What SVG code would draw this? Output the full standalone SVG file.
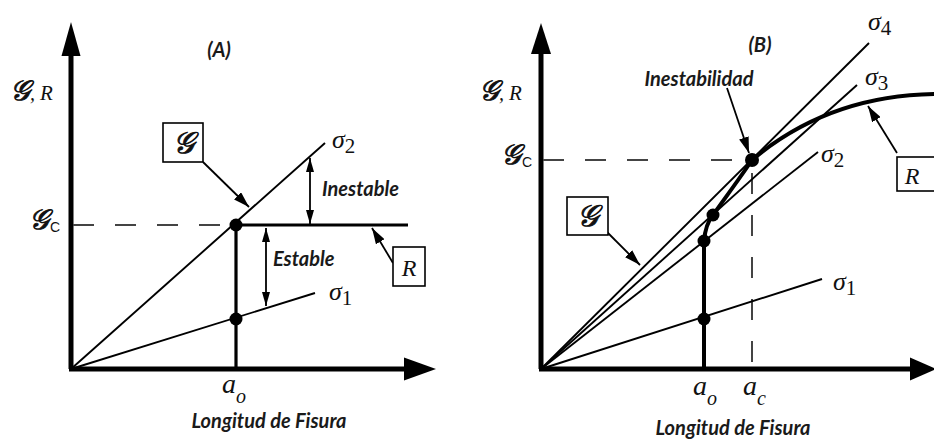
<svg xmlns="http://www.w3.org/2000/svg" width="934" height="441" viewBox="0 0 934 441">
<style>
.ax{stroke:#000;stroke-width:5;fill:none}
.ln{stroke:#000;stroke-width:1.9;fill:none}
.thk{stroke:#000;stroke-width:3.2;fill:none}
.rc{stroke:#000;stroke-width:4;fill:none;stroke-linecap:round}
.dash{stroke:#444;stroke-width:2;stroke-dasharray:21 21;fill:none}
.ptr{stroke:#000;stroke-width:1.8;fill:none;marker-end:url(#ah)}
.dbl{stroke:#000;stroke-width:1.8;fill:none;marker-start:url(#dh);marker-end:url(#dh)}
.box{fill:#fff;stroke:#000;stroke-width:1.6}
.dot{fill:#000}
.lab{font-family:"Lato","Liberation Sans",sans-serif;font-weight:bold;font-style:italic;font-size:20px;fill:#1a1a1a}
.m{font-family:"Liberation Serif",serif;font-style:italic;fill:#111;stroke:none}
.scr{font-family:"DejaVu Serif","DejaVu Sans","Noto Sans",serif;font-style:italic;fill:#111;stroke:#111;stroke-width:0.9}
.sub{font-family:"Liberation Sans",sans-serif;font-size:14px;fill:#111}
</style>
<defs>
<marker id="ah" viewBox="0 0 16 10" refX="16" refY="5" markerWidth="16" markerHeight="10" markerUnits="userSpaceOnUse" orient="auto"><path d="M0,0 L16,5 L0,10 z" fill="#000"/></marker>
<marker id="dh" viewBox="0 0 14 8" refX="14" refY="4" markerWidth="14" markerHeight="8" markerUnits="userSpaceOnUse" orient="auto-start-reverse"><path d="M0,0 L14,4 L0,8 z" fill="#000"/></marker>
</defs>
<rect width="934" height="441" fill="#fff"/>

<!-- Panel A -->
<g id="panelA-axes">
<line class="ax" x1="71" y1="369" x2="71" y2="50"/>
<polygon points="71,22 61.5,56 80.5,56" fill="#000"/>
<line class="ax" x1="69" y1="369" x2="410" y2="369"/>
<polygon points="436,369 404,357.5 404,380.5" fill="#000"/>
</g>
<g id="panelA-connectors">
<line class="dash" x1="73" y1="225" x2="232" y2="225"/>
<line class="ln" x1="71" y1="369" x2="325" y2="143"/>
<line class="ln" x1="71" y1="369" x2="315" y2="293"/>
<line class="thk" x1="236" y1="225" x2="408" y2="225"/>
<line class="thk" x1="236" y1="225" x2="236" y2="369"/>
<line class="ptr" x1="203" y1="162" x2="249" y2="207"/>
<line class="ptr" x1="393" y1="263" x2="372" y2="228"/>
<line class="dbl" x1="310" y1="158" x2="310" y2="224"/>
<line class="dbl" x1="266" y1="228" x2="266" y2="306"/>
<circle class="dot" cx="236" cy="225" r="6.5"/>
<circle class="dot" cx="236" cy="319" r="6.5"/>
</g>
<g id="panelA-G">
<rect class="box" x="163" y="123" width="40" height="39"/>
<text class="scr" x="183" y="153" font-size="30" text-anchor="middle">𝒢</text>
</g>
<g id="panelA-R">
<rect class="box" x="393" y="247" width="32" height="39"/>
<text class="m" x="409" y="276" font-size="24" text-anchor="middle">R</text>
</g>
<g id="panelA-labels">
<text class="lab" x="219" y="57" text-anchor="middle">(A)</text>
<text class="scr" x="10" y="100" font-size="28">𝒢<tspan class="m" font-size="20">,</tspan><tspan class="m" x="40" font-size="21">R</tspan></text>
<text class="scr" x="29" y="229" font-size="28">𝒢</text>
<text class="sub" x="50" y="232">C</text>
<text class="m" x="332" y="148" font-size="26">σ<tspan font-style="normal" font-size="21" dy="5">2</tspan></text>
<text class="m" x="329" y="300" font-size="26">σ<tspan font-style="normal" font-size="21" dy="5">1</tspan></text>
<text class="lab" x="322" y="196">Inestable</text>
<text class="lab" x="273" y="266">Estable</text>
<text class="m" x="222" y="393" font-size="28">a<tspan font-size="20" dy="10">o</tspan></text>
<text class="lab" x="269" y="428" text-anchor="middle">Longitud de Fisura</text>
</g>

<!-- Panel B -->
<g id="panelB-axes">
<line class="ax" x1="541" y1="369" x2="541" y2="50"/>
<polygon points="541,23 531,54 551,54" fill="#000"/>
<line class="ax" x1="539" y1="369" x2="915" y2="369"/>
<polygon points="936,369 910,357.5 910,380.5" fill="#000"/>
</g>
<g id="panelB-connectors">
<line class="dash" x1="543" y1="160" x2="748" y2="160"/>
<line class="dash" x1="752" y1="173" x2="752" y2="369"/>
<line class="ln" x1="541" y1="369" x2="869" y2="43"/>
<line class="ln" x1="541" y1="369" x2="857" y2="85"/>
<line class="ln" x1="541" y1="369" x2="818" y2="152"/>
<line class="ln" x1="541" y1="369" x2="822" y2="279"/>
<path class="rc" d="M704,369 L704,241 C705,230 708,221 713,215 C725,198 740,178 752,160 C790,128 850,94 940,94"/>
<line class="ptr" x1="727" y1="88" x2="749" y2="153"/>
<line class="ptr" x1="607" y1="232" x2="640" y2="265"/>
<line class="ptr" x1="897" y1="153" x2="868" y2="106"/>
<circle class="dot" cx="704" cy="319" r="6.5"/>
<circle class="dot" cx="704" cy="241" r="6.5"/>
<circle class="dot" cx="713" cy="215" r="6.5"/>
<circle class="dot" cx="752" cy="160" r="7"/>
</g>
<g id="panelB-G">
<rect class="box" x="567" y="197" width="41" height="38"/>
<text class="scr" x="587" y="226" font-size="30" text-anchor="middle">𝒢</text>
</g>
<g id="panelB-R">
<rect class="box" x="897" y="157" width="50" height="34"/>
<text class="m" x="912" y="184" font-size="24" text-anchor="middle">R</text>
</g>
<g id="panelB-labels">
<text class="lab" x="760" y="52" text-anchor="middle">(B)</text>
<text class="lab" x="699" y="86" text-anchor="middle">Inestabilidad</text>
<text class="scr" x="479" y="100" font-size="28">𝒢<tspan class="m" font-size="20">,</tspan><tspan class="m" x="509" font-size="21">R</tspan></text>
<text class="scr" x="501" y="164" font-size="28">𝒢</text>
<text class="sub" x="522" y="167">C</text>
<text class="m" x="868" y="30" font-size="26">σ<tspan font-style="normal" font-size="21" dy="5">4</tspan></text>
<text class="m" x="865" y="85" font-size="26">σ<tspan font-style="normal" font-size="21" dy="5">3</tspan></text>
<text class="m" x="821" y="162" font-size="26">σ<tspan font-style="normal" font-size="21" dy="5">2</tspan></text>
<text class="m" x="833" y="290" font-size="26">σ<tspan font-style="normal" font-size="21" dy="5">1</tspan></text>
<text class="m" x="693" y="395" font-size="28">a<tspan font-size="20" dy="10">o</tspan></text>
<text class="m" x="743" y="395" font-size="28">a<tspan font-size="20" dy="10">c</tspan></text>
<text class="lab" x="733" y="435" text-anchor="middle">Longitud de Fisura</text>
</g>
</svg>
